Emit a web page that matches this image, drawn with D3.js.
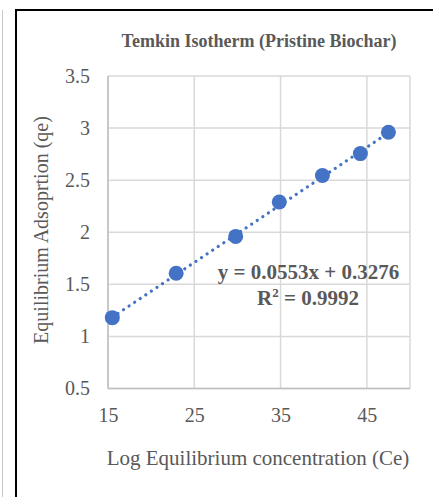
<!DOCTYPE html>
<html>
<head>
<meta charset="utf-8">
<script src="https://cdn.jsdelivr.net/npm/d3@7"></script>
<style>
html,body{margin:0;padding:0;background:#fff;}
svg{display:block;}
</style>
</head>
<body>
<svg id="chart" width="433" height="497"></svg>
<script>
const titleText = "Temkin Isotherm (Pristine Biochar)";
const xLabel = "Log Equilibrium concentration (Ce)";
const yLabel = "Equilibrium Adsoprtion (qe)";
const xValues = [15.5, 22.9, 29.8, 34.85, 39.85, 44.25, 47.5];
const yValues = [1.18, 1.607, 1.96, 2.29, 2.545, 2.755, 2.96];
const xTicks = [15, 25, 35, 45];
const yTicks = [0.5, 1, 1.5, 2, 2.5, 3, 3.5];
const slope = 0.0553, intercept = 0.3276;
const eqText = "y = 0.0553x + 0.3276";
const r2Value = "0.9992";

const svg = d3.select("#chart");
const font = "'Liberation Serif', 'Times New Roman', serif";
const textColor = "#595959";
const gridColor = "#d9d9d9";
const pointColor = "#4472C4";

// frame
svg.append("line").attr("x1", 2.5).attr("x2", 2.5).attr("y1", 10).attr("y2", 497)
  .attr("stroke", "#c8c8c8").attr("stroke-width", 1);
svg.append("path").attr("d", "M16,497 V10 H433")
  .attr("fill", "none").attr("stroke", "#000").attr("stroke-width", 2);

const x = d3.scaleLinear().domain([15, 50]).range([108, 410]);
const y = d3.scaleLinear().domain([0.5, 3.5]).range([388.5, 76]);

// grid
const g = svg.append("g");
g.selectAll(".vg").data(xTicks.concat([50])).enter().append("line")
  .attr("x1", d => x(d)).attr("x2", d => x(d))
  .attr("y1", y(0.5)).attr("y2", y(3.5))
  .attr("stroke", gridColor).attr("stroke-width", 1.5);
g.selectAll(".hg").data(yTicks).enter().append("line")
  .attr("x1", x(15)).attr("x2", x(50))
  .attr("y1", d => y(d)).attr("y2", d => y(d))
  .attr("stroke", gridColor).attr("stroke-width", 1.5);
// axis lines
g.append("line").attr("x1", x(15)).attr("x2", x(15)).attr("y1", y(0.5)).attr("y2", y(3.5))
  .attr("stroke", "#bfbfbf").attr("stroke-width", 1.5);
g.append("line").attr("x1", x(15)).attr("x2", x(50)).attr("y1", y(0.5)).attr("y2", y(0.5))
  .attr("stroke", "#bfbfbf").attr("stroke-width", 1.5);

// tick labels via axes
const xAxis = svg.append("g").attr("transform", `translate(0,${y(0.5)})`)
  .call(d3.axisBottom(x).tickValues(xTicks).tickSize(0).tickPadding(19).tickFormat(d3.format("d")));
xAxis.attr("font-family", null).attr("font-size", null);
xAxis.select(".domain").remove();
xAxis.selectAll("text").style("font-family", font).style("font-size", "20px").attr("fill", textColor);

const yAxis = svg.append("g").attr("transform", `translate(${x(15)},0)`)
  .call(d3.axisLeft(y).tickValues(yTicks).tickSize(0).tickPadding(18).tickFormat(d => d3.format("")(d)));
yAxis.attr("font-family", null).attr("font-size", null);
yAxis.select(".domain").remove();
yAxis.selectAll("text").style("font-family", font).style("font-size", "20px").attr("fill", textColor);

// title
svg.append("text").attr("x", 259).attr("y", 47).attr("text-anchor", "middle")
  .style("font-family", font).style("font-size", "18px").attr("font-weight", "bold")
  .attr("fill", textColor).text(titleText);

// axis titles
svg.append("text").attr("x", 258).attr("y", 465).attr("text-anchor", "middle")
  .style("font-family", font).style("font-size", "21px").attr("fill", textColor).text(xLabel);
svg.append("text").attr("transform", "translate(48,230) rotate(-90)").attr("text-anchor", "middle")
  .style("font-family", font).style("font-size", "20px").attr("fill", textColor).text(yLabel);

// trendline
const xmin = d3.min(xValues), xmax = d3.max(xValues);
svg.append("line")
  .attr("x1", x(xmin)).attr("y1", y(slope * xmin + intercept))
  .attr("x2", x(xmax)).attr("y2", y(slope * xmax + intercept))
  .attr("stroke", pointColor).attr("stroke-width", 3.2)
  .attr("stroke-linecap", "round").attr("stroke-dasharray", "0.1 6.6");

// points
svg.selectAll(".pt").data(xValues.map((v, i) => [v, yValues[i]])).enter().append("circle")
  .attr("cx", d => x(d[0])).attr("cy", d => y(d[1])).attr("r", 7.5)
  .attr("fill", pointColor);

// equation
const eq = svg.append("g").style("font-family", font).style("font-size", "21px")
  .attr("font-weight", "bold").attr("fill", textColor).attr("text-anchor", "middle");
eq.append("text").attr("x", 308.5).attr("y", 279).text(eqText);
const r2 = eq.append("text").attr("x", 308).attr("y", 305);
r2.append("tspan").text("R");
r2.append("tspan").style("font-size", "13px").attr("dy", -8).text("2");
r2.append("tspan").attr("dy", 8).text(" = " + r2Value);
</script>
</body>
</html>
